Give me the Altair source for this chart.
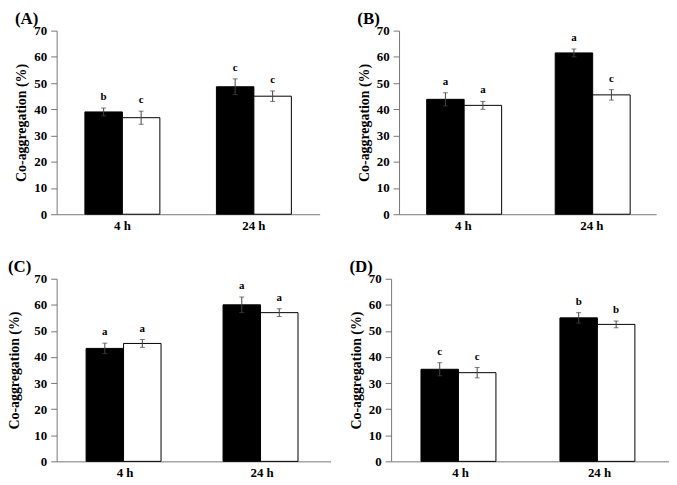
import altair as alt
import pandas as pd

panels = ["(A)", "(B)", "(C)", "(D)"]
times = ["4 h", "24 h"]
series = ["black", "white"]

# order per panel: [4 h black, 4 h white, 24 h black, 24 h white]
means = {
    "(A)": [39.0, 36.8, 48.6, 45.0],
    "(B)": [43.8, 41.5, 61.5, 45.5],
    "(C)": [43.3, 45.2, 60.0, 57.0],
    "(D)": [35.3, 34.0, 55.0, 52.5],
}
errors = {
    "(A)": [1.5, 2.5, 3.0, 2.0],
    "(B)": [2.5, 1.5, 1.5, 2.0],
    "(C)": [2.0, 1.5, 3.0, 1.5],
    "(D)": [2.5, 2.0, 2.0, 1.3],
}
letters = {
    "(A)": ["b", "c", "c", "c"],
    "(B)": ["a", "a", "a", "c"],
    "(C)": ["a", "a", "a", "a"],
    "(D)": ["c", "c", "b", "b"],
}
y_ticks = [0, 10, 20, 30, 40, 50, 60, 70]

FONT = "Liberation Serif"


def make_panel(name, width, height, title_pad, title_dx):
    rows = []
    i = 0
    for t in times:
        for s in series:
            m = means[name][i]
            e = errors[name][i]
            rows.append({"time": t, "series": s, "mean": m,
                         "lo": m - e, "hi": m + e, "letter": letters[name][i]})
            i += 1
    df = pd.DataFrame(rows)
    base = alt.Chart(df)
    x = alt.X("time:N", sort=times,
              scale=alt.Scale(paddingInner=0.43, paddingOuter=0.215),
              axis=alt.Axis(title=None, labelAngle=0, ticks=False, domainColor="#777",
                            labelFont=FONT, labelFontWeight="bold", labelFontSize=13,
                            labelColor="black", labelPadding=5))
    xo = alt.XOffset("series:N", sort=series, scale=alt.Scale(paddingInner=0, paddingOuter=0))
    yscale = alt.Scale(domain=[0, 70], nice=False, zero=True)
    yaxis = alt.Axis(title="Co-aggregation (%)", values=y_ticks,
                     labelOverlap=False, labelBound=False, labelFlush=False,
                     grid=False, tickSize=6, tickColor="#777", domainColor="#777",
                     labelFont=FONT, labelFontWeight="bold", labelFontSize=13,
                     labelColor="black", labelPadding=4,
                     titleFont=FONT, titleFontWeight="bold", titleFontSize=14,
                     titleColor="black", titlePadding=title_pad)

    def Y(field):
        return alt.Y(field, type="quantitative", scale=yscale, axis=yaxis)

    bars = base.mark_bar(stroke="black", strokeWidth=1).encode(
        x=x, xOffset=xo, y=Y("mean"),
        fill=alt.Fill("series:N", sort=series,
                      scale=alt.Scale(domain=series, range=["black", "white"]),
                      legend=None),
    )
    rule = base.mark_rule(color="#444", strokeWidth=1).encode(
        x=x, xOffset=xo, y=Y("lo"), y2="hi:Q")
    cap_hi = base.mark_tick(color="#444", thickness=1, size=5).encode(
        x=x, xOffset=xo, y=Y("hi"))
    cap_lo = base.mark_tick(color="#444", thickness=1, size=5).encode(
        x=x, xOffset=xo, y=Y("lo"))
    txt = base.mark_text(font=FONT, fontWeight="bold", fontSize=11, baseline="bottom",
                         dy=-6, color="black").encode(
        x=x, xOffset=xo, y=Y("hi"), text="letter:N")
    return alt.layer(bars, rule, cap_hi, cap_lo, txt).properties(
        width=width, height=height,
        title=alt.TitleParams(name, anchor="start", frame="group", dx=title_dx,
                              fontSize=17, font=FONT, fontWeight="bold",
                              color="black", offset=-3),
    )


A = make_panel("(A)", 265, 185, 5, -42)
B = make_panel("(B)", 259, 185, 5, -42)
C = make_panel("(C)", 276, 184, 12, -49)
D = make_panel("(D)", 280, 184, 5, -42)

chart = alt.vconcat(
    alt.hconcat(A, B, spacing=38),
    alt.hconcat(C, D, spacing=19),
    spacing=26,
).properties(padding=0).configure_view(stroke=None)

chart.save("out.html", embed_options={"renderer": "svg", "actions": False})
